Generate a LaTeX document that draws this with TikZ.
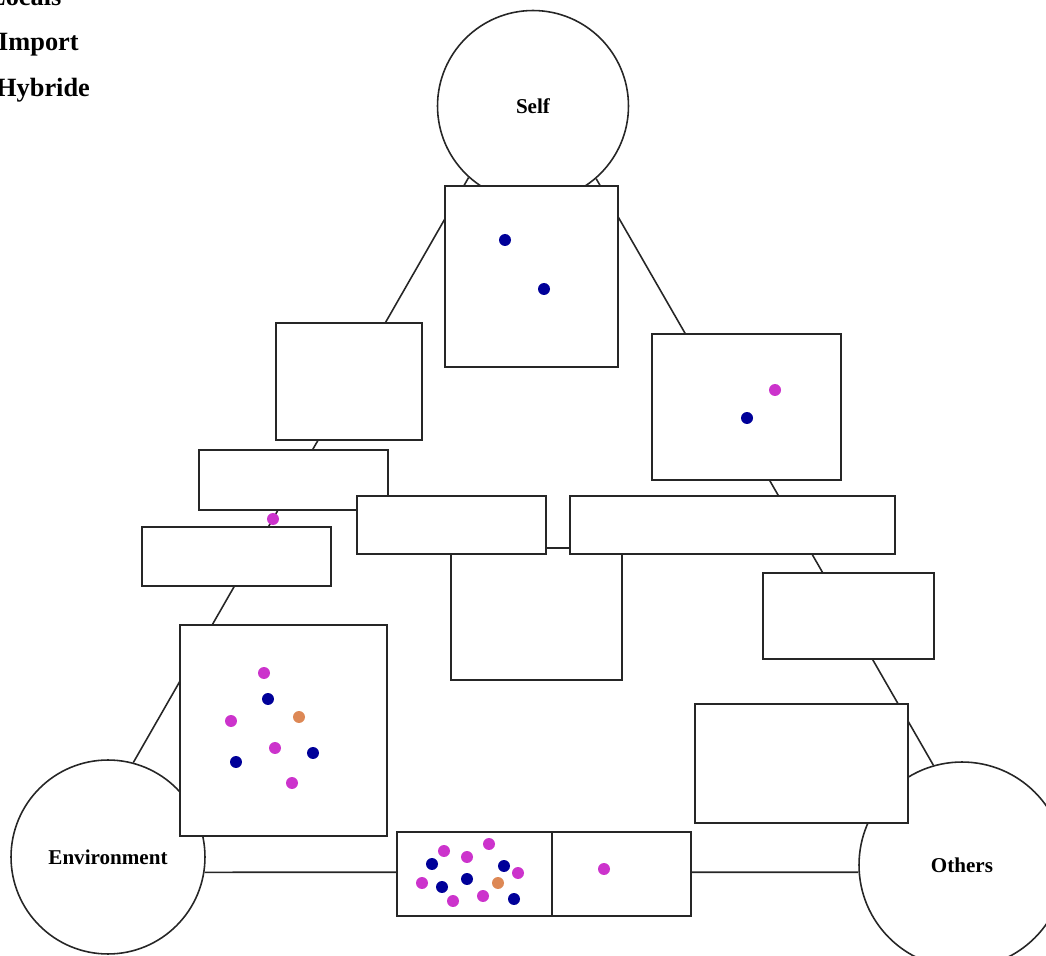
\documentclass[tikz,border=0pt]{standalone}
\usepackage{fontspec}
\setmainfont{Liberation Serif}

\definecolor{localblue}{HTML}{000099}
\definecolor{importpink}{HTML}{CC33CC}
\definecolor{hybridorange}{HTML}{DD8855}

\pgfdeclarelayer{back}
\pgfsetlayers{back,main}

\tikzset{
    sphere/.style={circle, draw=black!85, fill=white, line width=0.9pt, inner sep=0pt,
        font=\fontsize{12}{14}\selectfont\bfseries},
    slot/.style={rectangle, draw=black!85, fill=white, line width=1pt, inner sep=0pt},
    link/.style={draw=black!85, line width=0.9pt},
    legend/.style={anchor=base west, font=\fontsize{15}{17}\selectfont\bfseries},
}

\begin{document}
\begin{tikzpicture}[x=0.02cm, y=-0.02cm]
    \useasboundingbox (0, 0) rectangle (1046, 956);

    % legend, cut at the page edge
    \node (locals) at (-18, 6) [legend] {Locals};
    \node (import) at (-8, 51) [legend] {Import};
    \node (hybride) at (-10, 97) [legend] {Hybride};

    % the three poles
    \node (self) at (533, 106) [sphere, minimum size=3.82cm] {Self};
    \node (env) at (108, 857) [sphere, minimum size=3.88cm] {Environment};
    \node (others) at (962, 865) [sphere, minimum size=4.12cm] {Others};

    % boxes on the self--environment side
    \node (selfbox) at (531.5, 276.5) [slot, minimum width=3.46cm, minimum height=3.62cm] {};
    \node (leftA) at (349, 381.5) [slot, minimum width=2.92cm, minimum height=2.34cm] {};
    \node (leftB) at (293.5, 480) [slot, minimum width=3.78cm, minimum height=1.2cm] {};
    \node (leftC) at (236.5, 556.5) [slot, minimum width=3.78cm, minimum height=1.18cm] {};
    \node (envbox) at (283.5, 730.5) [slot, minimum width=4.14cm, minimum height=4.22cm] {};

    % middle boxes
    \node (midC) at (536.5, 614) [slot, minimum width=3.42cm, minimum height=2.64cm] {};
    \node (midA) at (451.5, 525) [slot, minimum width=3.78cm, minimum height=1.16cm] {};
    \node (midB) at (732.5, 525) [slot, minimum width=6.5cm, minimum height=1.16cm] {};

    % boxes on the self--others side
    \node (rightA) at (746.5, 407) [slot, minimum width=3.78cm, minimum height=2.92cm] {};
    \node (rightB) at (848.5, 616) [slot, minimum width=3.42cm, minimum height=1.72cm] {};
    \node (othersbox) at (801.5, 763.5) [slot, minimum width=4.26cm, minimum height=2.38cm] {};

    % boxes on the environment--others side
    \node (bottomA) at (474.5, 874) [slot, minimum width=3.1cm, minimum height=1.68cm] {};
    \node (bottomB) at (621.5, 874) [slot, minimum width=2.78cm, minimum height=1.68cm] {};

    % links behind the boxes
    \begin{pgfonlayer}{back}
        \draw [link] (self.228) -- (env.75);
        \draw [link] (self.311) -- (others.106);
        \draw [link] (env.-9) -- (others.184);
    \end{pgfonlayer}

    % dots
    \foreach \p in {(505,240), (544,289), (747,418), (268,699), (313,753), (236,762),
                    (432,864), (504,866), (442,887), (467,879), (514,899)}
        \fill [localblue] \p circle [radius=0.12cm];
    \foreach \p in {(775,390), (273,519), (264,673), (231,721), (275,748), (292,783),
                    (444,851), (489,844), (467,857), (518,873), (422,883), (453,901),
                    (483,896), (604,869)}
        \fill [importpink] \p circle [radius=0.12cm];
    \foreach \p in {(299,717), (498,883)}
        \fill [hybridorange] \p circle [radius=0.12cm];
\end{tikzpicture}
\end{document}
